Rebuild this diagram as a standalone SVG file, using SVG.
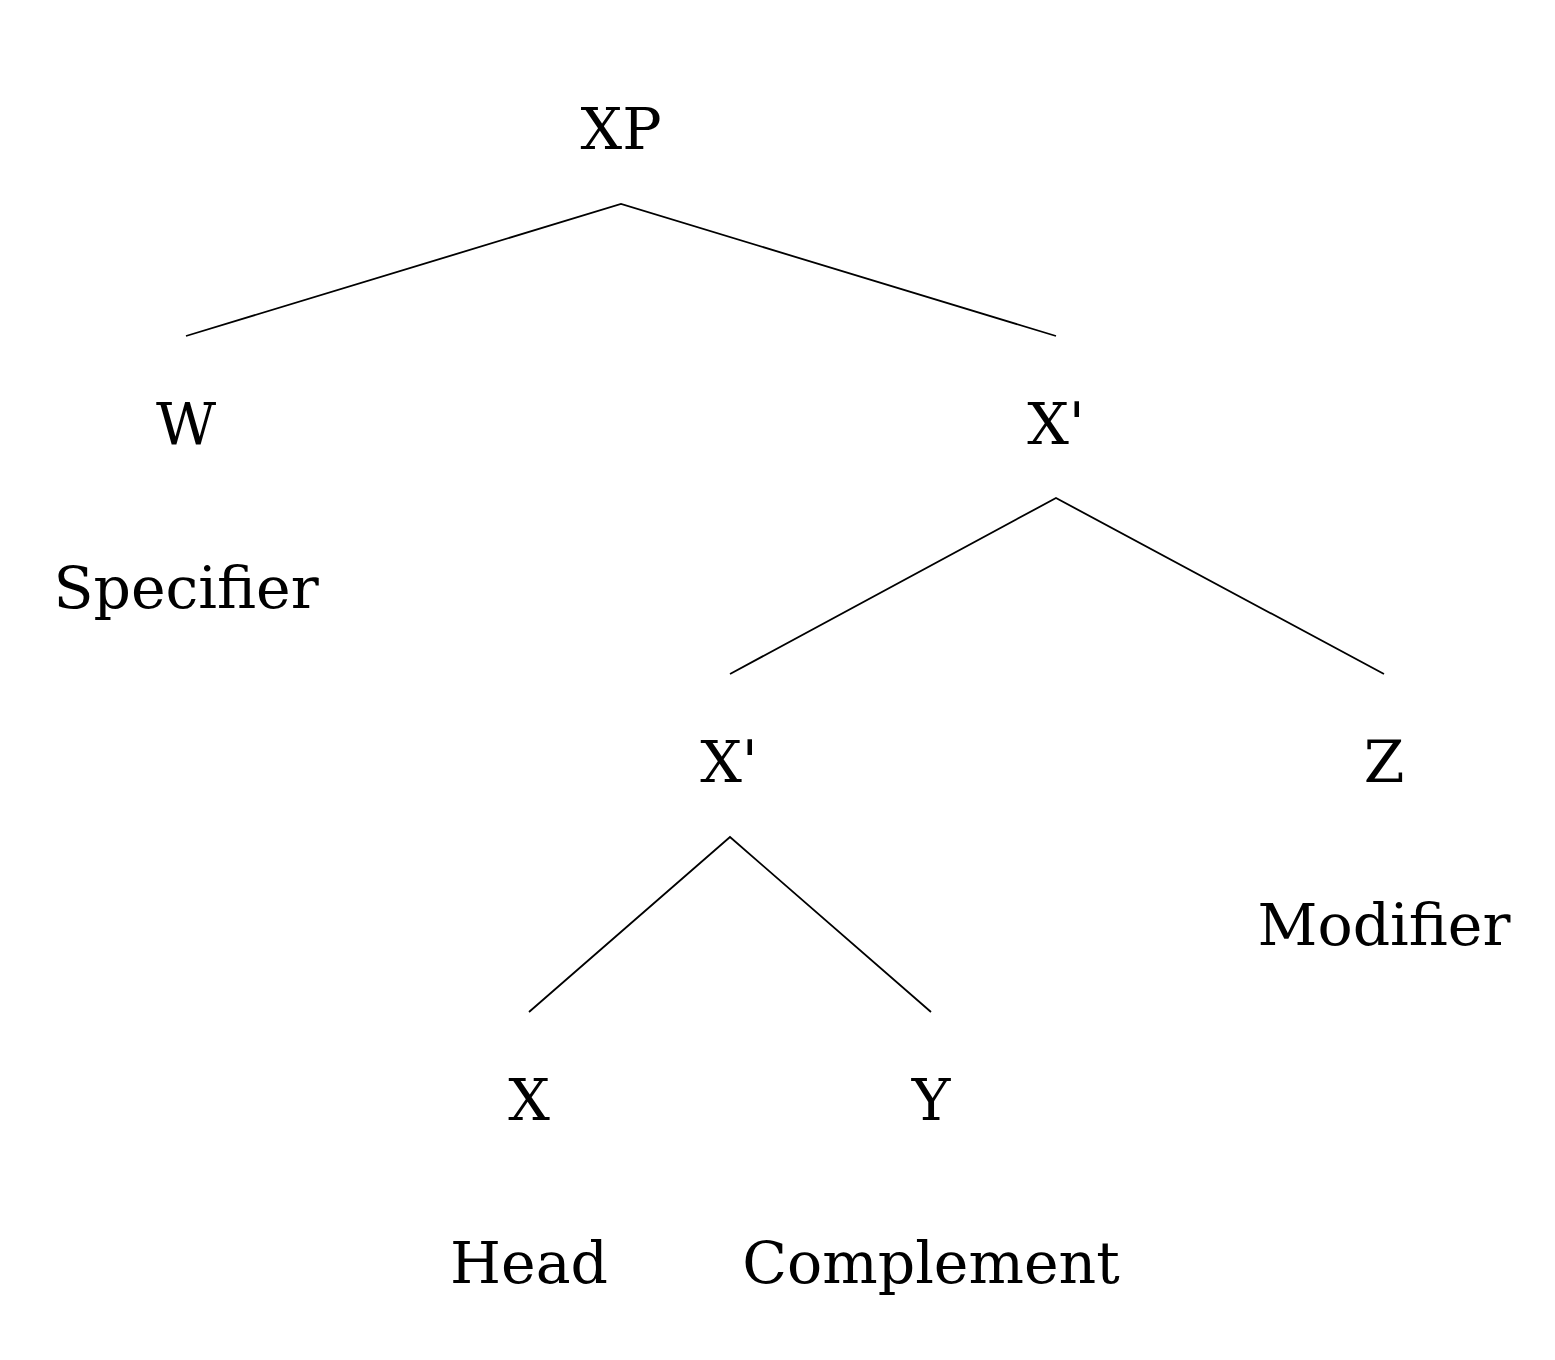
<svg xmlns="http://www.w3.org/2000/svg" width="1555" height="1360" viewBox="0 0 1555 1360">
<style>
text{font-family:"DejaVu Serif","Liberation Serif",serif;font-size:58.5px;fill:#000;text-anchor:middle}
.e{stroke:#000;stroke-width:1.8;fill:none}
</style>
<rect width="1555" height="1360" fill="#fff"/>
<g id="edges">
<path class="e" d="M186,336 L621,204 L1056,336"/>
<path class="e" d="M730,674 L1056,498 L1384,674"/>
<path class="e" d="M529,1012 L730,837 L931,1012"/>
</g>
<g id="XP"><text x="621" y="149">XP</text></g>
<g id="W"><text x="186" y="444">W</text><text x="186" y="608">Specifier</text></g>
<g id="Xbar1"><text x="1056" y="444">X'</text></g>
<g id="Xbar2"><text x="729" y="782">X'</text></g>
<g id="Z"><text x="1384" y="782">Z</text><text x="1384" y="945">Modifier</text></g>
<g id="X"><text x="529" y="1120">X</text><text x="529" y="1283">Head</text></g>
<g id="Y"><text x="931" y="1120">Y</text><text x="931" y="1283">Complement</text></g>
</svg>
